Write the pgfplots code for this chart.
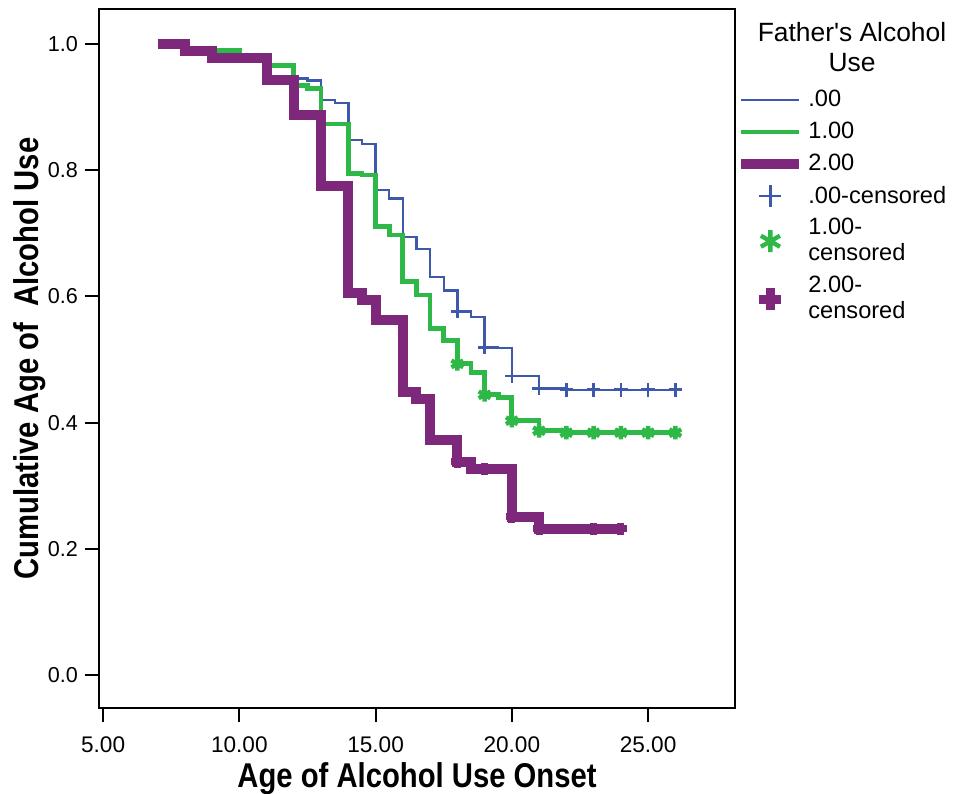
\documentclass[border=0pt]{standalone}
\usepackage{pgfplots}
\pgfplotsset{compat=1.18}
\usepackage{fontspec}
\setmainfont{Liberation Sans}
\newfontfamily\labfont[FakeStretch=0.85]{Liberation Sans}

\definecolor{c0}{HTML}{3E58AB}
\definecolor{c1}{HTML}{2EB848}
\definecolor{c2}{HTML}{7D287A}

\pgfplotsset{
  linelegend/.style={legend image code/.code={\draw[##1] (0pt,0pt) -- (29pt,0pt);}},
  censlegend/.style={legend image code/.code={\draw[##1,mark size=5.5pt] plot coordinates {(14.5pt,0pt)};}},
  censlegendB/.style={legend image code/.code={\draw[##1,mark size=5.5pt,every mark/.append style={line width=4.5pt}] plot coordinates {(14.5pt,0pt)};}},
}

\begin{document}
\begin{tikzpicture}
\begin{axis}[name=ax,
  scale only axis, width=318pt, height=349.5pt,
  xmin=4.85, xmax=28.19, ymin=-0.052, ymax=1.055,
  xtick={5,10,15,20,25}, ytick={0,0.2,0.4,0.6,0.8,1},
  /pgf/number format/assume math mode=true,
  xticklabel style={/pgf/number format/.cd,fixed,fixed zerofill,precision=2,/tikz/.cd,
    font=\fontsize{11.3}{13}\selectfont,yshift=-4pt},
  yticklabel style={/pgf/number format/.cd,fixed,fixed zerofill,precision=1,/tikz/.cd,
    font=\fontsize{10.8}{13}\selectfont},
  tick align=outside, tick pos=left, major tick length=7pt,
  axis line style={line width=1.2pt}, tick style={line width=1pt,black},
  xlabel={Age of Alcohol Use Onset},
  ylabel={Cumulative Age of\ \ Alcohol Use},
  label style={font=\labfont\bfseries\fontsize{17.2}{20}\selectfont},
  xlabel style={at={(axis description cs:0.5,-0.1015)},anchor=center},
  ylabel style={at={(axis description cs:-0.1085,0.5)},anchor=center},
  legend cell align=left,
  legend style={draw=none,fill=none,at={(axis description cs:1.0016,0.8899)},anchor=north west,
    inner sep=0pt,row sep=2.2pt,font=\fontsize{11.8}{13}\selectfont,
    nodes={align=left},
    /tikz/every even column/.append style={column sep=6pt}},
  linelegend,
  line join=miter,
]
% survival steps, .00
\addplot[const plot, c0, line width=1.2pt] coordinates {
(7,1.0) (8,0.989) (9,0.978) (11,0.945) (12.5,0.942) (13,0.911) (13.5,0.906)
(14,0.848) (14.5,0.841) (15,0.768) (15.5,0.755) (16,0.694) (16.5,0.675)
(17,0.631) (17.5,0.609) (18,0.576) (18.5,0.567) (19,0.519) (19.5,0.518)
(20,0.474) (21,0.454) (22,0.452) (26,0.452)};
\addlegendentry{.00}
% 1.00
\addplot[const plot, c1, line width=2.4pt] coordinates {
(7,1.0) (8,0.989) (10,0.978) (11,0.965) (12,0.934) (12.5,0.929) (13,0.873)
(14,0.795) (14.5,0.792) (15,0.711) (15.5,0.697) (16,0.624) (16.5,0.602)
(17,0.549) (17.5,0.530) (18,0.493) (18.5,0.479) (19,0.444) (19.5,0.440)
(20,0.403) (21,0.387) (22,0.384) (26,0.384)};
\addlegendentry{1.00}
% 2.00
\addplot[const plot, c2, line width=5pt] coordinates {
(7,1.0) (8,0.989) (9,0.978) (11,0.943) (12,0.887) (13,0.775) (14,0.605)
(14.5,0.594) (15,0.563) (16,0.449) (16.5,0.438) (17,0.372) (18,0.338)
(18.5,0.326) (20,0.251) (21,0.232) (24,0.232)};
\addlegendentry{2.00}
% censored
\addplot[only marks, c0, mark=+, mark size=3.4pt, mark options={line width=1.3pt}, censlegend]
  coordinates {(18,0.576) (19,0.519) (20,0.474) (21,0.454) (22,0.452)
  (23,0.452) (24,0.452) (25,0.452) (26,0.452)};
\addlegendentry{.00-censored}
\addplot[only marks, c1, mark=asterisk, mark size=3.4pt, mark options={line width=2.2pt}, censlegend]
  coordinates {(18,0.493) (19,0.444) (20,0.403) (21,0.387) (22,0.384)
  (23,0.384) (24,0.384) (25,0.384) (26,0.384)};
\addlegendentry{1.00-\\censored}
\addplot[only marks, c2, mark=+, mark size=3pt, mark options={line width=3.5pt}, censlegendB]
  coordinates {(18,0.338) (19,0.326) (20,0.251) (21,0.232) (23,0.232) (24,0.232)};
\addlegendentry{2.00-\\censored}
\end{axis}
\node[align=center,font=\fontsize{13.2}{15}\selectfont] at ([shift={(58.5pt,-19pt)}]ax.north east)
  {Father\textquotesingle s Alcohol\\Use};
\pgfresetboundingbox
\path ([shift={(-49.5pt,-43pt)}]ax.south west) rectangle ([shift={(110.5pt,4.5pt)}]ax.north east);
\end{tikzpicture}
\end{document}
